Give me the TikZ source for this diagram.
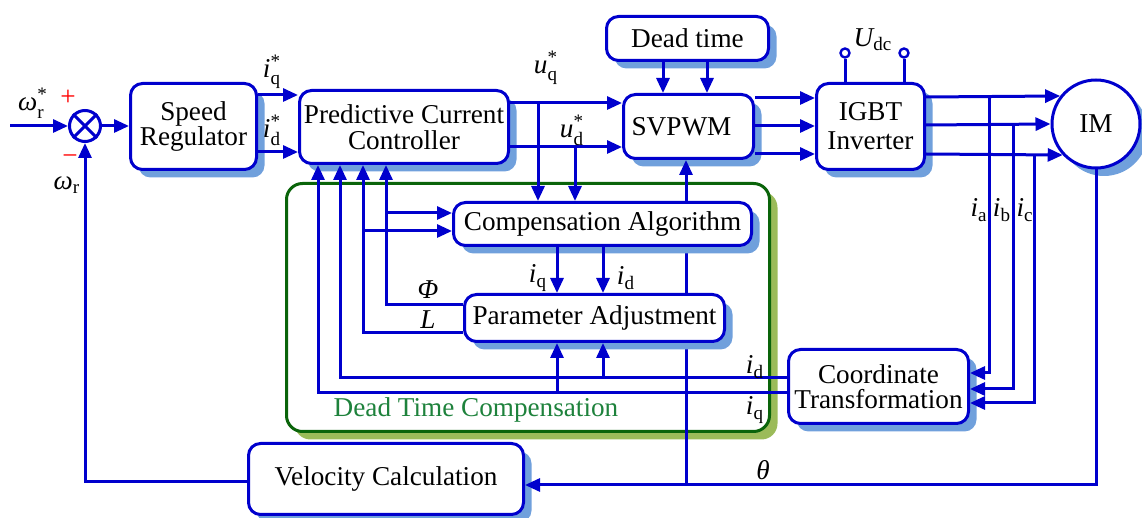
\documentclass[tikz,border=0pt]{standalone}
\usepackage{fontspec}
\setmainfont{Liberation Serif}
\usepackage{amsmath}
\usetikzlibrary{shadows,arrows.meta}
\definecolor{lblue}{RGB}{0,0,205}
\definecolor{shblue}{RGB}{112,160,220}
\definecolor{dgreen}{RGB}{10,100,10}
\definecolor{oliveg}{RGB}{155,187,89}
\definecolor{tgreen}{RGB}{30,130,60}
\pgfdeclarelayer{back}
\pgfdeclarelayer{bg}
\pgfsetlayers{back,bg,main}
\begin{document}
\begin{tikzpicture}[x=0.5pt,y=-0.5pt,
 font=\fontsize{13.6pt}{12.8pt}\selectfont,
 blk/.style={draw=lblue, line width=1.5pt, fill=white, rounded corners=6pt, align=center, inner sep=0pt, anchor=north west,
   drop shadow={fill=shblue, opacity=1, shadow xshift=4pt, shadow yshift=-4pt}},
 arr/.style={draw=lblue, line width=1.5pt, -{Triangle[length=7.5pt,width=6.5pt]}},
 ln/.style={draw=lblue, line width=1.5pt},
 lab/.style={inner sep=0pt}]
\useasboundingbox (0,0) rectangle (1142,518);

% green group box
\begin{pgfonlayer}{back}
\node[draw=dgreen, line width=1.5pt, rounded corners=8pt, anchor=north west, minimum width=241.5pt, minimum height=124pt, fill=white,
  drop shadow={fill=oliveg, opacity=1, shadow xshift=4pt, shadow yshift=-4pt}] (DTC) at (285,182) {};
\end{pgfonlayer}

% blocks
\node[blk, minimum width=63pt, minimum height=43pt] (SR) at (129,82) {Speed\\Regulator};
\node[blk, minimum width=104.5pt, minimum height=36.5pt] (PCC) at (298,89) {Predictive Current\\Controller};
\node[blk, minimum width=81pt, minimum height=22pt] (DT) at (605,15) {Dead time};
\node[blk, minimum width=65pt, minimum height=32pt] (SV) at (622,93) {SVPWM\hspace*{7pt}};
\node[blk, minimum width=54pt, minimum height=43pt, font=\fontsize{13.6pt}{14.5pt}\selectfont] (IG) at (815,82) {IGBT\\Inverter};
\node[blk, circle, anchor=center, minimum size=44pt] (IM) at (1096,124) {IM};
\node[blk, minimum width=149pt, minimum height=21.5pt] (CA) at (452,201) {Compensation Algorithm};
\node[blk, minimum width=130pt, minimum height=23.5pt] (PA) at (463,293) {Parameter Adjustment};
\node[blk, minimum width=90pt, minimum height=37pt] (CT) at (787,348) {Coordinate\\Transformation};
\node[blk, minimum width=137.5pt, minimum height=35.5pt] (VC) at (247,442) {Velocity Calculation};

% summing junction
\node[circle, draw=lblue, line width=1.5pt, fill=white, minimum size=15.5pt, inner sep=0pt] (S) at (85,126) {};
\draw[ln] (S.45) -- (S.225) (S.135) -- (S.315);

% DC terminals
\node[circle, draw=lblue, line width=1.2pt, fill=white, minimum size=4.5pt, inner sep=0pt] (t1) at (845,53) {};
\node[circle, draw=lblue, line width=1.2pt, fill=white, minimum size=4.5pt, inner sep=0pt] (t2) at (904,53) {};
\draw[ln] (t1.south) -- (t1 |- IG.north);
\draw[ln] (t2.south) -- (t2 |- IG.north);

% input
\coordinate (in) at (10,126);
\draw[arr] (in) -- (S.west);
\draw[arr] (S.east) -- (SR.west |- S.east);

% speed regulator -> PCC
\draw[arr] (SR.east |- 0,95) -- (PCC.west |- 0,95);
\draw[arr] (SR.east |- 0,152) -- (PCC.west |- 0,152);

% PCC -> SVPWM
\draw[arr] (PCC.east |- 0,103) -- (SV.west |- 0,103);
\draw[arr] (PCC.east |- 0,147) -- (SV.west |- 0,147);
\draw[arr] (538,103) -- (538,0 |- CA.north);
\draw[arr] (575,147) -- (575,0 |- CA.north);

% dead time -> SVPWM
\draw[arr] (663,0 |- DT.south) -- (663,0 |- SV.north);
\draw[arr] (707,0 |- DT.south) -- (707,0 |- SV.north);

% SVPWM -> IGBT
\draw[arr] (SV.east |- 0,98) -- (IG.west |- 0,98);
\draw[arr] (SV.east |- 0,126) -- (IG.west |- 0,126);
\draw[arr] (SV.east |- 0,154) -- (IG.west |- 0,154);

% IGBT -> IM
\draw[arr] (IG.east |- 0,97) -- (IM.142);
\draw[arr] (IG.east |- 0,125) -- (IM.west);
\draw[arr] (IG.east |- 0,154) -- (IM.223);

% current taps -> coordinate transformation
\draw[arr] (989,97) -- (989,373) -- (CT.east |- 0,373);
\draw[arr] (1013,125) -- (1013,389) -- (CT.east |- 0,389);
\draw[arr] (1034,154) -- (1034,403) -- (CT.east |- 0,403);

% coordinate transformation -> PCC / PA
\draw[arr] (CT.west |- 0,378) -- (340,378) -- (340,0 |- PCC.south);
\draw[arr] (CT.west |- 0,393) -- (318,393) -- (318,0 |- PCC.south);
\draw[arr] (557,393) -- (557,0 |- PA.south);
\draw[arr] (603,378) -- (603,0 |- PA.south);

% PA -> PCC, CA
\draw[arr] (PA.west |- 0,305) -- (386,305) -- (386,0 |- PCC.south);
\draw[arr] (PA.west |- 0,333) -- (363,333) -- (363,0 |- PCC.south);
\draw[arr] (386,213) -- (CA.west |- 0,213);
\draw[arr] (363,231) -- (CA.west |- 0,231);

% CA -> PA
\draw[arr] (557,0 |- CA.south) -- (557,0 |- PA.north);
\draw[arr] (603,0 |- CA.south) -- (603,0 |- PA.north);

% theta
\draw[arr] (IM.south) -- (1096,485) -- (VC.east |- 0,485);
\begin{pgfonlayer}{bg}
\draw[ln] (686,485) -- (686,0 |- CA.north);
\end{pgfonlayer}
\draw[arr] (686,0 |- CA.north) -- (686,0 |- SV.south);

% speed feedback
\draw[arr] (VC.west |- 0,482) -- (85,482) -- (S.south);

% labels
\node[lab] (lwrs) at (33,103) {$\textit{ω}^{\text{*}}_{\text{r}}$};
\node[lab, text=red] (plus) at (68,98) {+};
\node[lab, text=red] (minus) at (70,160) {−};
\node[lab] (lwr) at (67,185) {$\textit{ω}_{\text{r}}$};
\node[lab] (liqs) at (272,72) {$\textit{i}^{\text{*}}_{\text{q}}$};
\node[lab] (lids) at (272,130) {$\textit{i}^{\text{*}}_{\text{d}}$};
\node[lab] (luqs) at (546,68) {$\textit{u}^{\text{*}}_{\text{q}}$};
\node[lab] (luds) at (572,130) {$\textit{u}^{\text{*}}_{\text{d}}$};
\node[lab] (ludc) at (873,40) {$\textit{U}_{\text{dc}}$};
\node[lab] (lia) at (979,210) {$\textit{i}_{\text{a}}$};
\node[lab] (lib) at (1002,210) {$\textit{i}_{\text{b}}$};
\node[lab] (lic) at (1025,210) {$\textit{i}_{\text{c}}$};
\node[lab] (lid2) at (755,367) {$\textit{i}_{\text{d}}$};
\node[lab] (liq2) at (755,410) {$\textit{i}_{\text{q}}$};
\node[lab] (lphi) at (428,290) {\textit{Φ}};
\node[lab] (lL) at (428,320) {\textit{L}};
\node[lab] (liq1) at (538,278) {$\textit{i}_{\text{q}}$};
\node[lab] (lid1) at (626,278) {$\textit{i}_{\text{d}}$};
\node[lab] (lth) at (763,470) {\textit{θ}};
\node[lab, text=tgreen] (ldtc) at (476,410) {Dead Time Compensation};
\end{tikzpicture}
\end{document}
